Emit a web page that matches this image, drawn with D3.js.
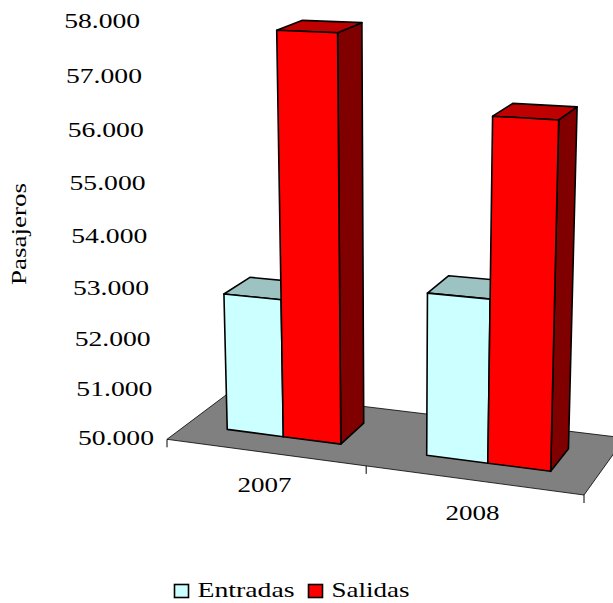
<!DOCTYPE html>
<html><head><meta charset="utf-8">
<script src="https://cdn.jsdelivr.net/npm/d3@7"></script>
<style>html,body{margin:0;padding:0;background:#fff}svg{display:block}text{font-family:"Liberation Serif",serif;fill:#000}</style>
</head><body><svg id="c" width="613" height="603"></svg>
<script>
const categories = ["2007","2008"];
const seriesNames = ["Entradas","Salidas"];
const entradas = [52730,53130];
const salidas = [57800,56450];
const yTicks = [50000,51000,52000,53000,54000,55000,56000,57000,58000];
const yTickLabels = ["50.000","51.000","52.000","53.000","54.000","55.000","56.000","57.000","58.000"];
const colors = {Entradas:{front:"#CCFFFF",top:"#9CC2C2",side:"#668080"},Salidas:{front:"#FF0000",top:"#BF0000",side:"#800000"}};

// 3D projection: floor homography plus a vertical vanishing point
const Q=[[167,439.3],[584,495],[625,438],[232,390.5]];
function homography(q){
  const [p0,p1,p2,p3]=q;
  const dx1=p1[0]-p2[0],dx2=p3[0]-p2[0],sx=p0[0]-p1[0]+p2[0]-p3[0];
  const dy1=p1[1]-p2[1],dy2=p3[1]-p2[1],sy=p0[1]-p1[1]+p2[1]-p3[1];
  const den=dx1*dy2-dx2*dy1;
  const g=(sx*dy2-dx2*sy)/den,h=(dx1*sy-sx*dy1)/den;
  return {a:p1[0]-p0[0]+g*p1[0],b:p3[0]-p0[0]+h*p3[0],c:p0[0],d:p1[1]-p0[1]+g*p1[1],e:p3[1]-p0[1]+h*p3[1],f:p0[1],g,h};
}
const H=homography(Q);
const V=[395,7300];
const yHeight=d3.scaleLinear().domain([50000,58000]).range([0,-0.0573]);
function P(u,z,val){
  const s=yHeight(val);
  const w=H.g*u+H.h*z+1;
  return [H.a*u+H.b*z+H.c+s*V[0], H.d*u+H.e*z+H.f+s*V[1]].map(c=>c/(w+s));
}
const uBand=d3.scaleBand().domain(categories).range([0,1]);
const uInner=d3.scaleBand().domain(seriesNames).range([0.212,0.792]);
const z0=0.295,z1=0.70,baseVal=yTicks[0];
const svg=d3.select("#c");
const line=pts=>"M"+pts.map(p=>p[0].toFixed(2)+","+p[1].toFixed(2)).join("L")+"Z";
function txt(x,y,s,size,len,anchor){
  return svg.append("text").attr("x",x).attr("y",y).attr("font-size",size).attr("text-anchor",anchor||"middle")
    .attr("dominant-baseline","central").attr("textLength",len).attr("lengthAdjust","spacingAndGlyphs").text(s);
}
// floor
svg.append("path").attr("d",line([P(0,0,baseVal),P(1,0,baseVal),P(1,1,baseVal),P(0,1,baseVal)]))
  .attr("fill","#808080").attr("stroke","#000").attr("stroke-width",0.8);
[0,0.5,1].forEach(u=>{const p=P(u,0,baseVal);
  svg.append("line").attr("x1",p[0]).attr("y1",p[1]).attr("x2",p[0]).attr("y2",p[1]+8).attr("stroke","#000").attr("stroke-width",1);});
// bars
function bar(cat,name,val){
  const b=uBand(cat)+uBand.bandwidth()*uInner(name);
  const e=b+uBand.bandwidth()*uInner.bandwidth();
  const c=colors[name];
  const g=svg.append("g").attr("stroke","#000").attr("stroke-width",1.6).attr("stroke-linejoin","round");
  g.append("path").attr("fill",c.side).attr("d",line([P(e,z0,baseVal),P(e,z1,baseVal),P(e,z1,val),P(e,z0,val)]));
  g.append("path").attr("fill",c.top).attr("d",line([P(b,z0,val),P(e,z0,val),P(e,z1,val),P(b,z1,val)]));
  g.append("path").attr("fill",c.front).attr("d",line([P(b,z0,baseVal),P(e,z0,baseVal),P(e,z0,val),P(b,z0,val)]));
}
categories.forEach((cat,i)=>{bar(cat,"Entradas",entradas[i]);bar(cat,"Salidas",salidas[i]);});
// labels
yTicks.forEach((t,i)=>{const p=P(0,0,t);txt(p[0]-13,p[1]-1,yTickLabels[i],21,76,"end");});
categories.forEach(cat=>{const p=P(uBand(cat)+uBand.bandwidth()/2,0,baseVal);txt(p[0],p[1]+33,cat,21,54);});
const yt=txt(0,0,"Pasajeros",21,102);yt.attr("transform","translate(19,234) rotate(-90)");
// legend
[[174,197.5,97],[308,331.5,78]].forEach((l,i)=>{const n=seriesNames[i];
  svg.append("rect").attr("x",l[0]+.5).attr("y",584.5).attr("width",14).attr("height",13).attr("fill",colors[n].front).attr("stroke","#000").attr("stroke-width",1.6);
  txt(l[1],590,n,21,l[2],"start");});
</script></body></html>
